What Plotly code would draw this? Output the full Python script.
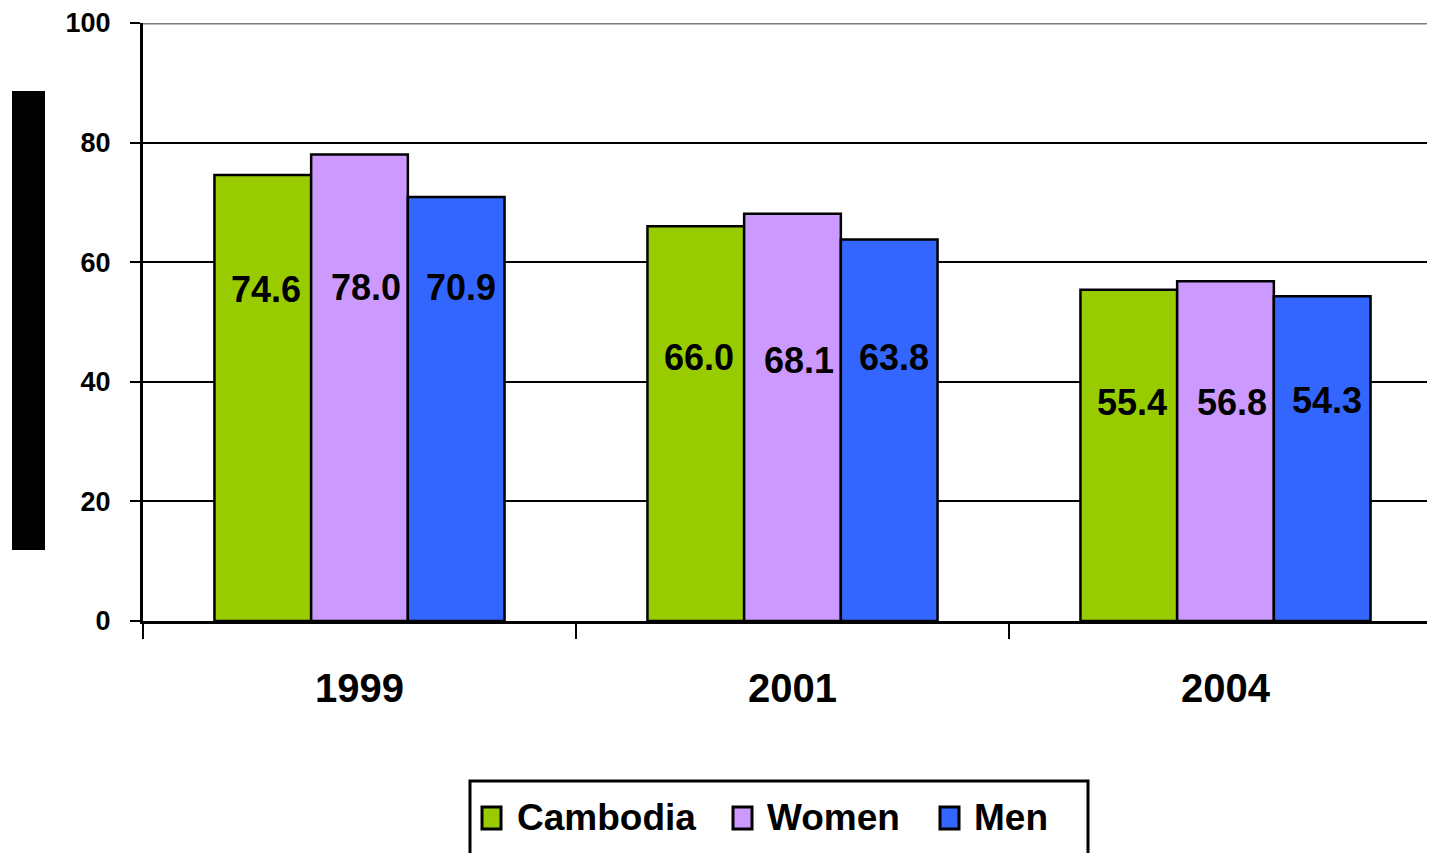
import plotly.graph_objects as go

years = ["1999", "2001", "2004"]
cambodia = [74.6, 66.0, 55.4]
women = [78.0, 68.1, 56.8]
men = [70.9, 63.8, 54.3]

series_names = ["Cambodia", "Women", "Men"]
series_colors = ["#99CC00", "#CC99FF", "#3366FF"]

# where the value labels sit inside the bars (data units, per year)
label_y = {
    "Cambodia": [55.4, 44.1, 36.5],
    "Women": [55.7, 43.5, 36.5],
    "Men": [55.7, 44.1, 36.9],
}
label_xshift = {"Cambodia": -94, "Women": 6, "Men": 101}

# page has an 8px body margin, so the figure sits at (8, 8) in the window
OFF = 8
W, H = 1435 - OFF, 853 - OFF
L, T = 143 - OFF, 23 - OFF
B = H - (621 - OFF)
PW, PH = W - L, H - T - B


def px_x(p):
    # window pixel -> paper x
    return (p - OFF - L) / PW


def px_y(p):
    # window pixel -> paper y
    return (H - B - (p - OFF)) / PH


font = "Liberation Sans, Arial"

fig = go.Figure()
for name, vals, col in zip(series_names, [cambodia, women, men], series_colors):
    fig.add_trace(go.Bar(
        x=years, y=vals, name=name,
        marker=dict(color=col, line=dict(color="black", width=2.5)),
        showlegend=False,
    ))
    for i, (v, ly) in enumerate(zip(vals, label_y[name])):
        fig.add_annotation(
            x=i, y=ly, xref="x", yref="y", text=f"{v:.1f}", showarrow=False,
            xshift=label_xshift[name],
            font=dict(family=font, size=36, color="black", weight="bold"),
        )

# top border line at 100
fig.add_shape(type="line", xref="paper", yref="y", x0=0, x1=1, y0=100, y1=100,
              line=dict(color="#7f7f7f", width=3))

# black block on the left (where the y title would be)
fig.add_shape(type="rect", xref="paper", yref="paper",
              x0=px_x(12), x1=px_x(45), y0=px_y(550), y1=px_y(91),
              fillcolor="black", line=dict(width=0))

# hand-drawn legend
fig.add_shape(type="rect", xref="paper", yref="paper",
              x0=px_x(470), x1=px_x(1088), y0=px_y(880), y1=px_y(781),
              fillcolor="white", line=dict(color="black", width=3))
legend_sq = [482, 733, 940]
legend_tx = [515, 765, 972]
for name, col, sq, tx in zip(series_names, series_colors, legend_sq, legend_tx):
    fig.add_shape(type="rect", xref="paper", yref="paper",
                  x0=px_x(sq), x1=px_x(sq + 19), y0=px_y(829), y1=px_y(807),
                  fillcolor=col, line=dict(color="black", width=3))
    fig.add_annotation(x=px_x(tx), y=px_y(818), xref="paper", yref="paper",
                       text=name, showarrow=False, xanchor="left", yanchor="middle",
                       font=dict(family=font, size=37, color="black", weight="bold"))

fig.update_layout(
    width=W, height=H,
    margin=dict(l=L, r=0, t=T, b=B),
    paper_bgcolor="white", plot_bgcolor="white",
    barmode="group", bargap=0.33, bargroupgap=0,
    showlegend=False,
)
fig.update_xaxes(
    type="category",
    range=[-0.5, -0.5 + PW / 433], tickson="boundaries",
    ticks="outside", ticklen=15, tickwidth=2, tickcolor="black",
    showline=True, linecolor="black", linewidth=3, showgrid=False,
    ticklabelstandoff=30,
    tickfont=dict(family=font, size=40, color="black", weight="bold"),
)
fig.update_yaxes(
    range=[0, 100], dtick=20, ticks="outside", ticklen=10, tickwidth=2, tickcolor="black",
    showline=True, linecolor="black", linewidth=3,
    showgrid=True, gridcolor="black", gridwidth=2, zeroline=False,
    ticklabelstandoff=14,
    tickfont=dict(family=font, size=27, color="black", weight="bold"),
)

fig.write_html("out.html")
